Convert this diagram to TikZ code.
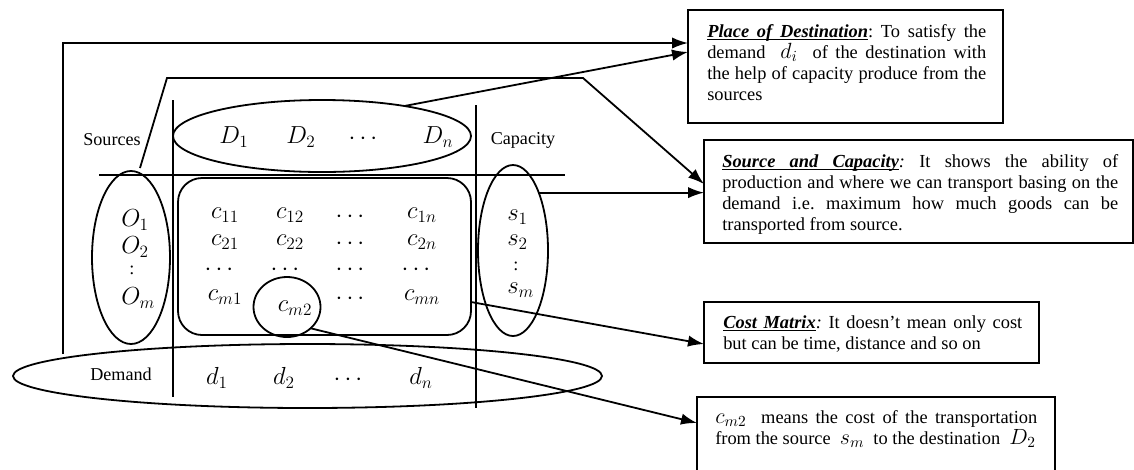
\RequirePackage{fix-cm}
\documentclass[tikz,border=0pt]{standalone}
\usepackage{fontspec}
\setmainfont{Liberation Serif}
\usetikzlibrary{arrows.meta,shapes.geometric}
\newcommand\ulw[1]{\setbox0\hbox{\bfseries\itshape #1}\rlap{\vrule height -1.4pt depth 2.3pt width\wd0}\box0}
\newcommand\ulsp{\leaders\hrule height -1.4pt depth 2.3pt\hskip\fontdimen2\font plus\fontdimen3\font minus\fontdimen4\font}
\newcommand\nm[1]{{\fontsize{16.5pt}{15.75pt}\selectfont$#1$}}
\tikzset{
  ln/.style={line width=1.35pt},
  arr/.style={line width=1.35pt,-{Latex[length=12pt,width=8.5pt]}},
  oval/.style={draw,ellipse,line width=1.35pt,inner sep=0pt,outer sep=0pt},
  notebox/.style={draw,line width=1.5pt,inner sep=0pt,outer sep=0pt,anchor=north west},
  notetxt/.style={inner sep=0pt,anchor=north west,align=justify,font=\fontsize{13.8pt}{15.75pt}\selectfont\frenchspacing},
  lab/.style={inner sep=0pt,font=\fontsize{13.6pt}{16pt}\selectfont},
  mth/.style={inner sep=0pt,font=\fontsize{18.5pt}{20pt}\selectfont},
}
\begin{document}
\begin{tikzpicture}[x=0.75pt,y=-0.75pt]
\clip (0,0) rectangle (1134,469);
\fill[white] (0,0) rectangle (1134,469);

% ---- note boxes ----
\node[notebox,minimum width=236.25pt,minimum height=84.75pt] (pd) at (688,10) {};
\node[notetxt,text width=209.25pt] (pdt) at (707,24) {\ulw{Place}\ulsp\ulw{of}\ulsp\ulw{Destination}: To satisfy the\linebreak
demand \ \nm{d_i} \ of the destination with\linebreak
the help of capacity produce from the\linebreak
sources};

\node[notebox,minimum width=321.75pt,minimum height=77.25pt] (sc) at (704,140) {};
\node[notetxt,text width=297pt] (sct) at (722,154) {\ulw{Source}\ulsp\ulw{and}\ulsp\ulw{Capacity}\textit{:} It shows the ability of\linebreak
production and where we can transport basing on the\linebreak
demand i.e. maximum how much goods can be\linebreak
transported from source.};

\node[notebox,minimum width=251.25pt,minimum height=45.75pt] (cmx) at (704,302) {};
\node[notetxt,text width=224.25pt] (cmxt) at (723,315) {\ulw{Cost}\ulsp\ulw{Matrix}\textit{:} It doesn’t mean only cost\linebreak
but can be time, distance and so on};

\node[notebox,minimum width=268.5pt,minimum height=80pt] (cbox) at (697,397) {};
\node[notetxt,text width=241.5pt] (cboxt) at (715,410) {\nm{c_{m2}} \ means the cost of the transportation\linebreak
from the source \ \nm{s_m} \ to the destination \ \nm{D_2}};

% ---- table frame ----
\draw[ln] (173,100) -- (173,397);
\draw[ln] (476,105) -- (476,408);
\draw[ln] (99,175) -- (565,175);

% ---- ovals and matrix ----
\node[oval,minimum width=223.5pt,minimum height=54pt] (del) at (322,136) {};
\node[oval,minimum width=58.5pt,minimum height=129.75pt] (oel) at (131,257.5) {};
\node[oval,minimum width=52.5pt,minimum height=128.25pt] (sel) at (513,250.5) {};
\node[oval,minimum width=441.75pt,minimum height=48pt] (dem) at (307.5,376) {};
\node[draw,line width=1.35pt,rounded corners=18pt,inner sep=0pt,outer sep=0pt,
      minimum width=219.75pt,minimum height=117.75pt] (mat) at (324.5,256.5) {};
\node[oval,minimum width=50.25pt,minimum height=45pt] (cir) at (287,307) {};

% ---- labels ----
\node[lab] (lsrc) at (112,140) {Sources};
\node[lab] (lcap) at (523,140) {Capacity};
\node[lab] (ldem) at (121,374) {Demand};

\node[mth] (D1) at (234,137) {$D_1$};
\node[mth] (D2) at (301,137) {$D_2$};
\node[mth] (Dd) at (363,139) {$\cdots$};
\node[mth] (Dn) at (438,137) {$D_n$};

\node[mth,anchor=west] (O1) at (121,220) {$O_1$};
\node[mth,anchor=west] (O2) at (121,247) {$O_2$};
\node[lab] (Oc) at (132,270) {:};
\node[mth,anchor=west] (Om) at (121,298) {$O_m$};

\node[mth,anchor=west] (s1) at (507,217) {$s_1$};
\node[mth,anchor=west] (s2) at (507,242) {$s_2$};
\node[lab] (sc2) at (516,266) {:};
\node[mth,anchor=west] (sm) at (507,290) {$s_m$};

\node[mth] (c11) at (225,215) {$c_{11}$};
\node[mth] (c12) at (290,215) {$c_{12}$};
\node[mth] (c13) at (350,217) {$\cdots$};
\node[mth] (c1n) at (422,215) {$c_{1n}$};
\node[mth] (c21) at (225,242) {$c_{21}$};
\node[mth] (c22) at (290,242) {$c_{22}$};
\node[mth] (c23) at (350,244) {$\cdots$};
\node[mth] (c2n) at (422,242) {$c_{2n}$};
\node[mth] (c31) at (219,270) {$\cdots$};
\node[mth] (c32) at (285,270) {$\cdots$};
\node[mth] (c33) at (350,270) {$\cdots$};
\node[mth] (c34) at (416,270) {$\cdots$};
\node[mth] (cm1) at (225,297) {$c_{m1}$};
\node[mth] (cm2) at (295,308) {$c_{m2}$};
\node[mth] (cm3) at (350,299) {$\cdots$};
\node[mth] (cmn) at (422,297) {$c_{mn}$};

\node[mth] (d1) at (217,378) {$d_1$};
\node[mth] (d2) at (284,378) {$d_2$};
\node[mth] (dd) at (348,380) {$\cdots$};
\node[mth] (dn) at (421,378) {$d_n$};

% ---- connectors ----
\coordinate (p1) at (63,354);
\draw[arr] (p1) |- (pd.west |- 0,43);
\coordinate (p2) at (140,168);
\draw[arr] (p2) -- (167,78) -- (583,78) -- (sc.west |- 0,184);
\draw[arr] (del.20) -- (pd.west |- 0,52);
\draw[arr] (sel.66) -- (sel.66 -| sc.west);
\draw[arr] (mat.east |- 0,302) -- (cmx.west |- 0,344);
\draw[arr] (cir.-42) -- (cbox.west |- 0,423);
\end{tikzpicture}
\end{document}
